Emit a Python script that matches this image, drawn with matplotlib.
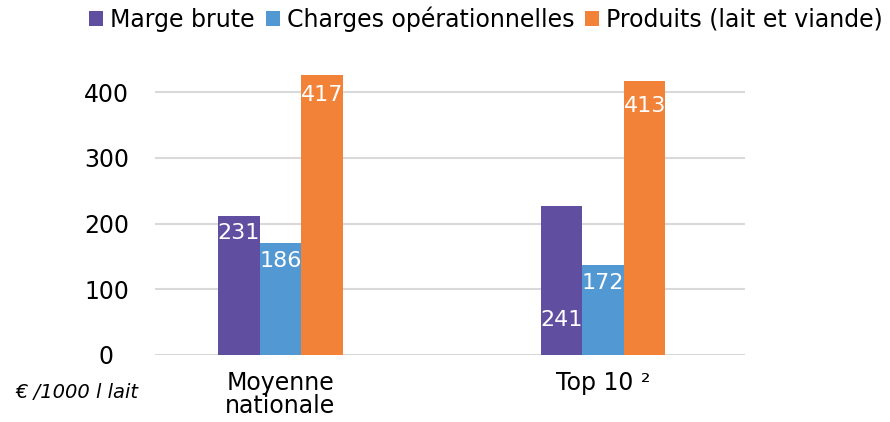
import numpy as np
import matplotlib.pyplot as plt
from matplotlib.patches import Patch

plt.rcParams['font.family'] = ['DejaVu Sans']

groups = ['Moyenne\nnationale', 'Top 10 ²']
series = ['Marge brute', 'Charges opérationnelles', 'Produits (lait et viande)']
colors = ['#604FA0', '#5298D3', '#F28238']

# bar heights as drawn in the picture
heights = {
    'Marge brute': [211, 227],
    'Charges opérationnelles': [170, 137],
    'Produits (lait et viande)': [426, 417],
}
# printed labels (they don't match the drawn heights in the source)
labels = {
    'Marge brute': ['231', '241'],
    'Charges opérationnelles': ['186', '172'],
    'Produits (lait et viande)': ['417', '413'],
}
# how far below the bar top each label sits, in points
label_drop = {
    'Marge brute': [-12, -82],
    'Charges opérationnelles': [-13, -13],
    'Produits (lait et viande)': [-14, -18],
}
yticks = [0, 100, 200, 300, 400]

fig = plt.figure(figsize=(8.9, 4.22), dpi=100)
ax = fig.add_axes([155/890, 1-354.7/422, 590/890, 288.6/422])

x = np.arange(len(groups))
w = 0.1285
for i, s in enumerate(series):
    pos = x + (i - 1) * w
    bars = ax.bar(pos, heights[s], width=w, color=colors[i], zorder=3)
    for b, lab, dy in zip(bars, labels[s], label_drop[s]):
        ax.annotate(lab, (b.get_x() + b.get_width()/2, b.get_height()),
                    xytext=(0, dy), textcoords='offset points',
                    ha='center', va='center', color='white', fontsize=16, zorder=4)

ax.set_xlim(-0.388, 1.439)
ax.set_ylim(0, 440)
ax.set_yticks(yticks)
ax.yaxis.grid(True, color='#d9d9d9', linewidth=1.5, zorder=0)
ax.set_axisbelow(True)
for sp in ax.spines.values():
    sp.set_visible(False)
ax.tick_params(axis='y', length=0, labelsize=17, pad=35)
for t in ax.get_yticklabels():
    t.set_horizontalalignment('center')
ax.set_xticks(x)
ax.set_xticklabels(groups, fontsize=17, linespacing=0.95)
ax.tick_params(axis='x', length=0, pad=12)

fig.text(15/890, 1-392/422, '€ /1000 l lait', fontsize=14, style='italic', va='center', ha='left')

handles = [Patch(facecolor=c) for c in colors]
fig.legend(handles, series, loc='upper center', bbox_to_anchor=(486/890, 1.035), ncol=3,
           frameon=False, fontsize=17, handlelength=0.6, handleheight=0.6,
           handletextpad=0.3, columnspacing=0.45)

fig.savefig('out.png', dpi=100)
